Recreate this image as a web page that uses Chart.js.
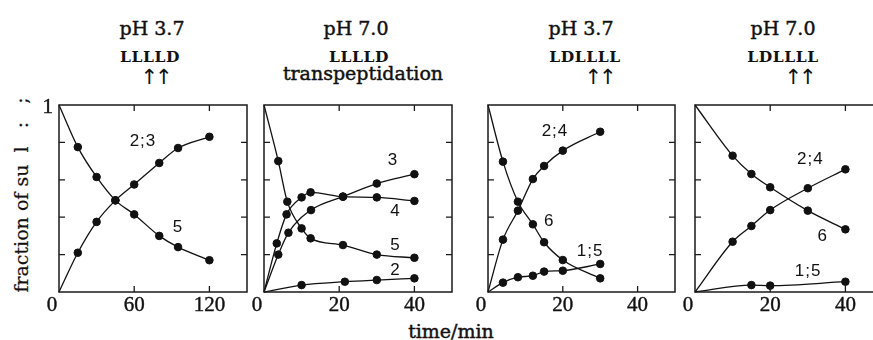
<!DOCTYPE html>
<html>
<head>
<meta charset="utf-8">
<script src="https://cdn.jsdelivr.net/npm/chart.js@4/dist/chart.umd.min.js"></script>
<style>
  html, body { margin: 0; padding: 0; background: #fff; }
  body { width: 873px; height: 340px; overflow: hidden; position: relative; }
  canvas { position: absolute; }
  .t { position: absolute; transform: translateX(-50%); white-space: nowrap; color: #111;
       font-family: "DejaVu Serif", serif; line-height: 1; }
  .ph { font-size: 19px; -webkit-text-stroke: 0.45px #111; }
  .seq { font-size: 15.5px; font-weight: bold; letter-spacing: 0.6px; }
  .arr { font-size: 21px; font-family: "DejaVu Sans", sans-serif; letter-spacing: -3px; color: #111; }
  .ylab { position: absolute; font-family: "DejaVu Serif", serif; font-size: 19px; color: #111;
          white-space: pre; transform: translate(-50%, -50%) rotate(-90deg); line-height: 1;
          -webkit-text-stroke: 0.2px #111; }
</style>
</head>
<body>
<div class="t ph" style="left:152px;top:19px">pH 3.7</div>
<div class="t seq" style="left:150px;top:49px">LLLLD</div>
<div class="t arr" style="left:155px;top:67px">↑↑</div>

<div class="t ph" style="left:356px;top:19px">pH 7.0</div>
<div class="t seq" style="left:359px;top:49px">LLLLD</div>
<div class="t ph" style="left:363px;top:64px">transpeptidation</div>

<div class="t ph" style="left:581px;top:19px">pH 3.7</div>
<div class="t seq" style="left:585px;top:49px">LDLLLL</div>
<div class="t arr" style="left:599px;top:67px">↑↑</div>

<div class="t ph" style="left:783px;top:19px">pH 7.0</div>
<div class="t seq" style="left:783px;top:49px">LDLLLL</div>
<div class="t arr" style="left:799px;top:67px">↑↑</div>

<div class="ylab" style="left:21px;top:195px">fraction of su  l   :   ;</div>
<div class="t ph" style="left:451px;top:322px">time/min</div>

<canvas id="c1"></canvas>
<canvas id="c2"></canvas>
<canvas id="c3"></canvas>
<canvas id="c4"></canvas>

<script>
// panel 1: pH 3.7, LLLLD
const p1Times = [0, 15, 30, 45, 60, 80, 95, 120];
const p1S23 = [0, 0.21, 0.375, 0.49, 0.575, 0.69, 0.77, 0.83];
const p1S5 = [1, 0.775, 0.615, 0.49, 0.415, 0.30, 0.24, 0.17];

// panel 2: pH 7.0, LLLLD transpeptidation
const p2T3 = [0, 3.8, 6.5, 12.5, 21, 30, 40];
const p2S3 = [0, 0.20, 0.317, 0.438, 0.51, 0.58, 0.63];
const p2T4 = [0, 3.4, 6, 10, 12.4, 21, 30, 40];
const p2S4 = [0, 0.26, 0.415, 0.506, 0.533, 0.51, 0.506, 0.487];
const p2T5 = [0, 3.8, 6.2, 10, 12.4, 21, 30, 40];
const p2S5 = [1, 0.70, 0.483, 0.34, 0.287, 0.251, 0.20, 0.183];
const p2T2 = [0, 10, 21.5, 30, 40];
const p2S2 = [0, 0.037, 0.055, 0.064, 0.073];

// panel 3: pH 3.7, LDLLLL
const p3Times = [0, 4, 8, 12, 15, 20, 30];
const p3S24 = [0, 0.28, 0.435, 0.604, 0.674, 0.756, 0.857];
const p3S6 = [1, 0.697, 0.483, 0.362, 0.266, 0.171, 0.073];
const p3S15 = [0, 0.05, 0.079, 0.087, 0.109, 0.114, 0.15];

// panel 4: pH 7.0, LDLLLL
const p4Times = [0, 10, 15, 20, 30, 40];
const p4S6 = [1, 0.729, 0.631, 0.56, 0.435, 0.335];
const p4S24 = [0, 0.269, 0.353, 0.438, 0.555, 0.656];
const p4T15 = [0, 15, 20, 40];
const p4S15 = [0, 0.037, 0.034, 0.055];

const p1XTicks = [0, 60, 120];
const shortXTicks = [0, 20, 40];
const yTicks = [0, 0.2, 0.4, 0.6, 0.8, 1];

const PAD = { left: 40, right: 10, top: 15, bottom: 40 };
const PLOT_TOP = 105;
const PLOT_H = 187;

function series(times, values) {
  return {
    data: times.map((t, i) => ({ x: t, y: values[i] })),
    borderColor: "#111",
    borderWidth: 1.3,
    backgroundColor: "#111",
    pointBackgroundColor: "#111",
    pointBorderColor: "#111",
    pointBorderWidth: 1,
    pointRadius: (c) => (c.dataIndex === 0 ? 0 : 3.8),
    cubicInterpolationMode: "monotone",
    fill: false,
    clip: false,
  };
}

const framePlugin = {
  id: "frame",
  afterDatasetsDraw(chart, args, opts) {
    const { ctx, chartArea: a, scales } = chart;
    const x = scales.x, y = scales.y;
    ctx.save();
    ctx.strokeStyle = "#1a1a1a";
    ctx.lineWidth = 1.5;
    ctx.strokeRect(a.left, a.top, a.right - a.left, a.bottom - a.top);
    ctx.lineWidth = 1.3;
    ctx.beginPath();
    opts.xTicks.forEach((v) => {
      if (v <= x.min || v >= x.max) return;
      const px = x.getPixelForValue(v);
      ctx.moveTo(px, a.bottom); ctx.lineTo(px, a.bottom - 6);
      ctx.moveTo(px, a.top); ctx.lineTo(px, a.top + 6);
    });
    yTicks.forEach((v) => {
      if (v <= 0 || v >= 1) return;
      const py = y.getPixelForValue(v);
      ctx.moveTo(a.left, py); ctx.lineTo(a.left + 6, py);
      ctx.moveTo(a.right, py); ctx.lineTo(a.right - 6, py);
    });
    ctx.stroke();

    // tick labels
    ctx.fillStyle = "#111";
    ctx.strokeStyle = "#111";
    ctx.lineWidth = 0.4;
    ctx.font = '21px "Liberation Serif", serif';
    ctx.textAlign = "center";
    ctx.textBaseline = "alphabetic";
    opts.xTicks.forEach((v) => {
      const px = x.getPixelForValue(v) + (v === 0 ? -7 : 0);
      ctx.fillText(String(v), px, a.bottom + 19);
      ctx.strokeText(String(v), px, a.bottom + 19);
    });
    if (opts.yLabel) {
      ctx.textAlign = "right";
      ctx.fillText("1", a.left - 6, y.getPixelForValue(1) + 8);
      ctx.strokeText("1", a.left - 6, y.getPixelForValue(1) + 8);
    }

    // curve labels
    ctx.font = '17px "Liberation Sans", Arial, sans-serif';
    ctx.letterSpacing = "1px";
    ctx.textAlign = "center";
    ctx.textBaseline = "middle";
    opts.labels.forEach(([txt, lx, ly]) => {
      ctx.fillText(txt, x.getPixelForValue(lx), y.getPixelForValue(ly));
    });
    ctx.restore();
  },
};

function makePanel(id, left, width, xMax, xTicks, datasets, labels, yLabel) {
  const cv = document.getElementById(id);
  cv.width = width + PAD.left + PAD.right;
  cv.height = PLOT_H + PAD.top + PAD.bottom;
  cv.style.left = (left - PAD.left) + "px";
  cv.style.top = (PLOT_TOP - PAD.top) + "px";
  new Chart(cv, {
    type: "line",
    data: { datasets },
    options: {
      responsive: false,
      animation: false,
      devicePixelRatio: 1,
      layout: { padding: PAD },
      plugins: {
        legend: { display: false },
        tooltip: { enabled: false },
        frame: { xTicks, labels, yLabel },
      },
      scales: {
        x: { type: "linear", min: 0, max: xMax, display: false },
        y: { type: "linear", min: 0, max: 1, display: false },
      },
    },
    plugins: [framePlugin],
  });
}

makePanel("c1", 59, 188, 150, p1XTicks,
  [series(p1Times, p1S23), series(p1Times, p1S5)],
  [["2;3", 67, 0.807], ["5", 95, 0.348]], true);

makePanel("c2", 264, 188, 50, shortXTicks,
  [series(p2T3, p2S3), series(p2T4, p2S4), series(p2T5, p2S5), series(p2T2, p2S2)],
  [["3", 34.3, 0.706], ["4", 35, 0.43], ["5", 35, 0.25], ["2", 35, 0.118]], false);

makePanel("c3", 488, 187, 50, shortXTicks,
  [series(p3Times, p3S24), series(p3Times, p3S6), series(p3Times, p3S15)],
  [["2;4", 17.9, 0.857], ["6", 16.4, 0.376], ["1;5", 27.3, 0.215]], false);

makePanel("c4", 695, 188, 50, shortXTicks,
  [series(p4Times, p4S6), series(p4Times, p4S24), series(p4T15, p4S15)],
  [["2;4", 30.7, 0.71], ["6", 34, 0.296], ["1;5", 30.1, 0.109]], false);
</script>
</body>
</html>
